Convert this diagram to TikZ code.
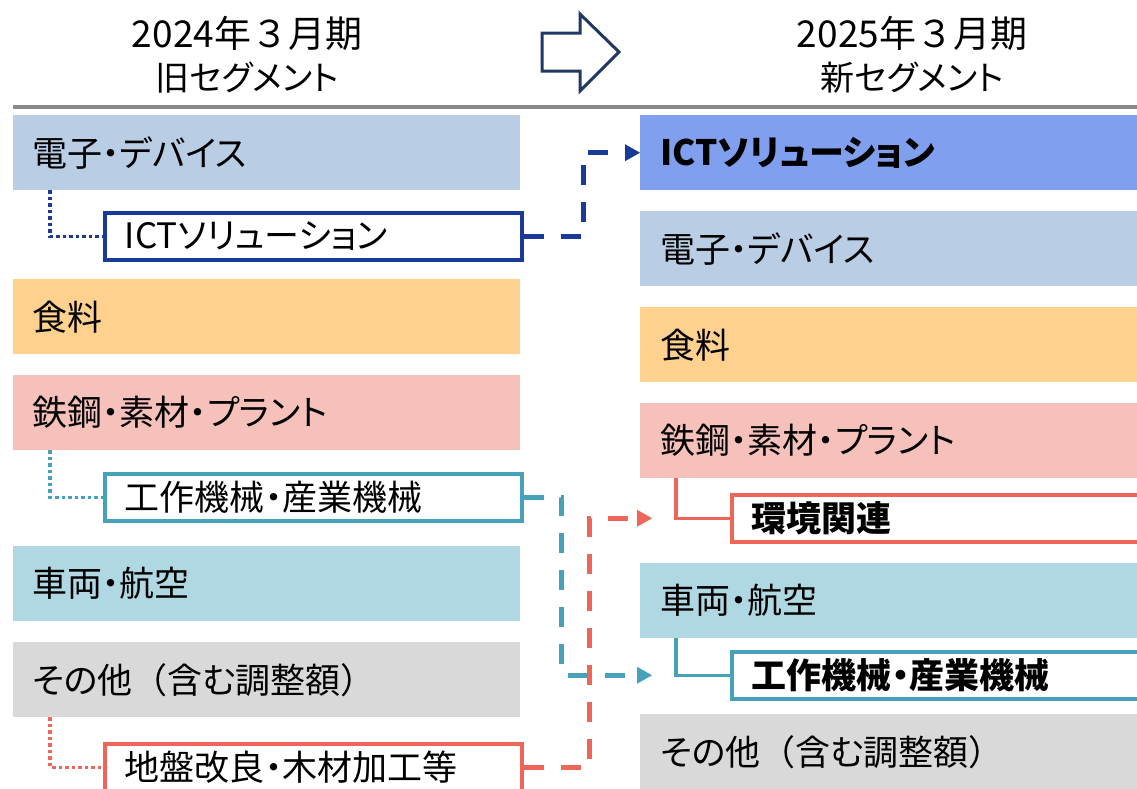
\documentclass[tikz,border=0pt]{standalone}
\usepackage{fontspec}
\setmainfont{Noto Sans CJK JP}[RawFeature=+palt]
\newfontfamily\fullw{Noto Sans CJK JP}
\usetikzlibrary{arrows.meta}
\definecolor{cBlueL}{RGB}{185,205,229}
\definecolor{cBlueM}{RGB}{128,160,239}
\definecolor{cOrange}{RGB}{255,209,143}
\definecolor{cPink}{RGB}{246,193,187}
\definecolor{cTealL}{RGB}{176,216,226}
\definecolor{cGray}{RGB}{217,217,217}
\definecolor{cNavyD}{RGB}{26,58,152}
\definecolor{cTeal}{RGB}{72,161,186}
\definecolor{cCoral}{RGB}{237,102,87}
\definecolor{cArrow}{RGB}{31,56,100}
\definecolor{cRule}{RGB}{137,137,137}
\newcommand{\fwl}{{\fullw （}}
\newcommand{\fwr}{{\fullw ）}}
\begin{document}
\begin{tikzpicture}[x=1pt,y=-1pt,
  segL/.style={anchor=north west, fill=#1, inner xsep=19pt, inner ysep=0pt,
    minimum height=75pt, text width=469pt, align=left,
    font=\fontsize{35}{35}\selectfont},
  segR/.style={anchor=north west, fill=#1, inner xsep=20pt, inner ysep=0pt,
    minimum height=75pt, text width=460pt, align=left,
    font=\fontsize{35}{35}\selectfont},
  subL/.style={anchor=north west, draw=#1, fill=white, line width=3.5pt,
    inner xsep=20pt, inner ysep=0pt, minimum height=47pt, text width=377pt,
    align=left, font=\fontsize{35}{35}\selectfont},
  subR/.style={anchor=north west, draw=#1, fill=white, line width=3.5pt,
    inner xsep=20pt, inner ysep=0pt, minimum height=47pt, text width=375pt,
    align=left, font=\fontsize{35}{35}\selectfont\bfseries},
  titleA/.style={font=\fullw\fontsize{37}{37}\selectfont, inner sep=0pt},
  titleB/.style={font=\fontsize{34}{34}\selectfont, inner sep=0pt},
  dotline/.style={draw=#1, line width=3.5pt, dash pattern=on 3.5pt off 3pt},
  solline/.style={draw=#1, line width=3.5pt},
  dashline/.style={draw=#1, line width=4.5pt, dash pattern=on 20pt off 17pt,
    -{Triangle[length=15pt,width=17pt,line width=0pt,fill=#1]}},
]
\useasboundingbox (0,0) rectangle (1137,788);
\clip (0,0) rectangle (1137,788);

% titles
\node[titleA] (tl1) at (247,33) {2024年３月期};
\node[titleB] (tl2) at (247,78) {旧セグメント};
\node[titleA] (tr1) at (912,33) {2025年３月期};
\node[titleB] (tr2) at (912,78) {新セグメント};

% header arrow and rule
\draw[cArrow, line width=3pt, line join=miter]
  (542,33) -- (580,33) -- (580,14) -- (619,52) -- (580,91) -- (580,71) -- (542,71) -- cycle;
\draw[cRule, line width=4pt] (13,107) -- (1137,107);

% left column
\node[segL=cBlueL] (l1) at (13,115) {電子・デバイス};
\node[subL=cNavyD] (lict) at (103,211) {ICTソリューション};
\node[segL=cOrange] (l2) at (13,279) {食料};
\node[segL=cPink] (l3) at (13,375) {鉄鋼・素材・プラント};
\node[subL=cTeal] (lmach) at (103,472) {工作機械・産業機械};
\node[segL=cTealL] (l4) at (13,546) {車両・航空};
\node[segL=cGray] (l5) at (13,642) {その他\fwl 含む調整額\fwr};
\node[subL=cCoral] (lsoil) at (103,742) {地盤改良・木材加工等};

% right column
\node[segR=cBlueM, font=\fontsize{35}{35}\selectfont\bfseries] (rict) at (640,115) {ICTソリューション};
\node[segR=cBlueL] (r1) at (640,211) {電子・デバイス};
\node[segR=cOrange] (r2) at (640,307) {食料};
\node[segR=cPink] (r3) at (640,403) {鉄鋼・素材・プラント};
\node[subR=cCoral] (renv) at (730,493) {環境関連};
\node[segR=cTealL] (r4) at (640,563) {車両・航空};
\node[subR=cTeal] (rmach) at (730,650) {工作機械・産業機械};
\node[segR=cGray] (r5) at (640,714) {その他\fwl 含む調整額\fwr};

% dotted sub-links (left)
\draw[dotline=cNavyD] ([xshift=37pt]l1.south west) |- (lict.west);
\draw[dotline=cTeal] ([xshift=37pt]l3.south west) |- (lmach.west);
\draw[dotline=cCoral] ([xshift=37pt]l5.south west) |- (lsoil.west);

% solid sub-links (right)
\draw[solline=cCoral] ([xshift=36pt]r3.south west) |- (renv.west);
\draw[solline=cTeal] ([xshift=36pt]r4.south west) |- (rmach.west);

% dashed moves
\draw[dashline=cNavyD] (lict.east) -- ([xshift=60pt]lict.east) |- (rict.west);
\draw[dashline=cTeal] (lmach.east) -- ([xshift=38pt]lmach.east) |- ([xshift=-78pt]rmach.west);
\draw[dashline=cCoral] (lsoil.east) -- ([xshift=66pt]lsoil.east) |- ([xshift=-78pt]renv.west);
\end{tikzpicture}
\end{document}
